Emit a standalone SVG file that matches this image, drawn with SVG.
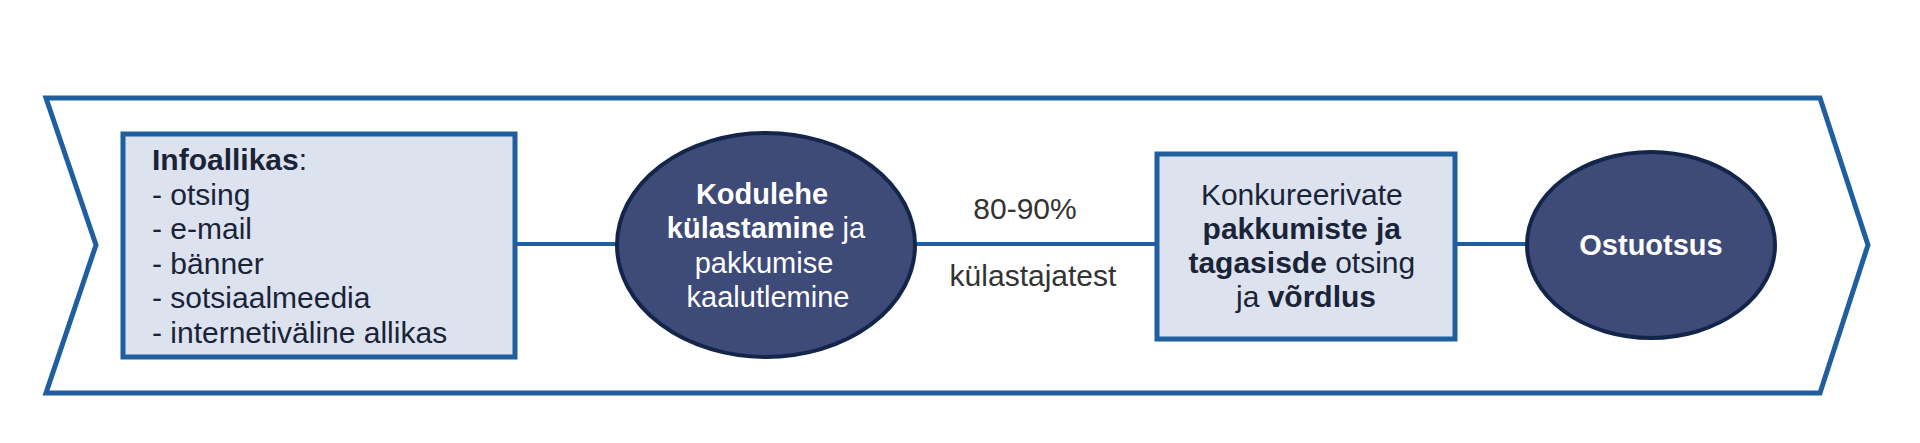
<svg xmlns="http://www.w3.org/2000/svg" width="1920" height="443" viewBox="0 0 1920 443">
<style>
  .frame{fill:#ffffff;stroke:#1F5FA0;stroke-width:5;stroke-linejoin:miter}
  .box{fill:#DCE3EF;stroke:#1F5FA0;stroke-width:5}
  .oval{fill:#3E4A78;stroke:#14254A;stroke-width:4}
  .conn{stroke:#1F5FA0;stroke-width:4;fill:none}
  text{font-family:"Liberation Sans",Arial,sans-serif;font-size:30px}
  .oval-text{font-size:29px}
  .dark{fill:#1B2338}
  .white{fill:#ffffff}
  .lbl{fill:#333333}
  .b{font-weight:bold}
</style>
<rect width="1920" height="443" fill="#ffffff"/>
<g id="frame">
  <polygon class="frame" points="46,98 1820,98 1868,245 1820,393 46,393 96,245"/>
</g>
<g id="connectors">
  <line class="conn" x1="517" y1="244" x2="617" y2="244"/>
  <line class="conn" x1="915" y1="244" x2="1157" y2="244"/>
  <line class="conn" x1="1455" y1="244" x2="1527" y2="244"/>
  <text class="lbl" x="1025" y="219" text-anchor="middle">80-90%</text>
  <text class="lbl" x="1033" y="286" text-anchor="middle">külastajatest</text>
</g>
<g id="infoallikas">
  <rect class="box" x="123" y="134" width="392" height="223"/>
  <text class="dark" x="152" y="170"><tspan class="b">Infoallikas</tspan>:</text>
  <text class="dark" x="152" y="204.5">- otsing</text>
  <text class="dark" x="152" y="239">- e-mail</text>
  <text class="dark" x="152" y="273.5">- bänner</text>
  <text class="dark" x="152" y="308">- sotsiaalmeedia</text>
  <text class="dark" x="152" y="342.5">- internetiväline allikas</text>
</g>
<g id="kodulehe">
  <ellipse class="oval" cx="766" cy="245" rx="149" ry="112"/>
  <text class="white oval-text" text-anchor="middle">
    <tspan x="766" y="204" class="b">Kodulehe</tspan>
    <tspan x="770" y="238"><tspan class="b">külastamine</tspan> ja</tspan>
    <tspan x="768" y="273">pakkumise</tspan>
    <tspan x="768" y="307">kaalutlemine</tspan>
  </text>
</g>
<g id="konkureerivate">
  <rect class="box" x="1157" y="154" width="298" height="185"/>
  <text class="dark" text-anchor="middle">
    <tspan x="1306" y="205">Konkureerivate</tspan>
    <tspan x="1306" y="239" class="b">pakkumiste ja</tspan>
    <tspan x="1306" y="273"><tspan class="b">tagasisde</tspan> otsing</tspan>
    <tspan x="1306" y="307">ja <tspan class="b">võrdlus</tspan></tspan>
  </text>
</g>
<g id="ostuotsus">
  <ellipse class="oval" cx="1651" cy="245" rx="124" ry="93"/>
  <text class="white oval-text b" x="1651" y="255" text-anchor="middle">Ostuotsus</text>
</g>
</svg>
